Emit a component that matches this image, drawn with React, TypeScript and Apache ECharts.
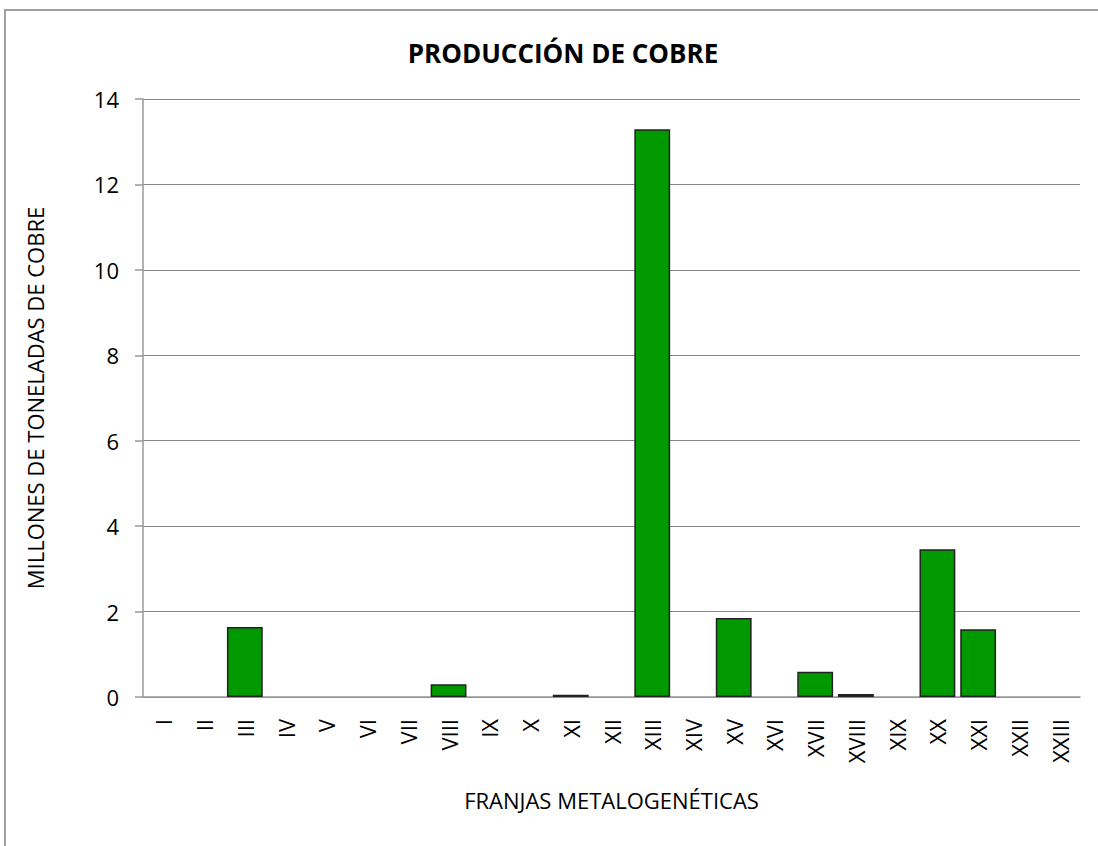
import React, { useEffect, useRef } from "react";
import * as echarts from "echarts";

const categories = ["I","II","III","IV","V","VI","VII","VIII","IX","X","XI","XII","XIII","XIV","XV","XVI","XVII","XVIII","XIX","XX","XXI","XXII","XXIII"];
const production = [0, 0, 1.64, 0, 0, 0, 0, 0.3, 0, 0, 0.05, 0, 13.29, 0, 1.85, 0, 0.59, 0.07, 0, 3.46, 1.585, 0, 0];
const yTicks = { min: 0, max: 14, interval: 2 };

const FONT = "'Open Sans', 'Noto Sans', sans-serif";

export default function App() {
  const ref = useRef<HTMLDivElement>(null);
  useEffect(() => {
    if (!ref.current) return;
    const chart = echarts.init(ref.current, undefined, { renderer: "svg" });
    chart.setOption({
      animation: false,
      backgroundColor: "#ffffff",
      title: {
        text: "PRODUCCIÓN DE COBRE",
        left: 558,
        textAlign: "center",
        top: 35,
        textStyle: { fontFamily: FONT, fontSize: 26, fontWeight: "bold", color: "#000" },
      },
      graphic: [
        {
          type: "rect",
          shape: { x: 5, y: 10, width: 1200, height: 1000 },
          style: { fill: "none", stroke: "#a0a0a0", lineWidth: 2 },
          silent: true,
        },
      ],
      grid: { left: 143, right: 18, top: 99, bottom: 149 },
      xAxis: {
        type: "category",
        data: categories,
        name: "FRANJAS METALOGENÉTICAS",
        nameLocation: "middle",
        nameGap: 92,
        nameTextStyle: { fontFamily: FONT, fontSize: 22, color: "#000" },
        axisLine: { lineStyle: { color: "#999", width: 1.5 } },
        axisTick: { show: false },
        axisLabel: { rotate: 90, margin: 22, fontFamily: FONT, fontSize: 22, color: "#000", interval: 0 },
      },
      yAxis: {
        type: "value",
        min: yTicks.min,
        max: yTicks.max,
        interval: yTicks.interval,
        name: "MILLONES DE TONELADAS DE COBRE",
        nameLocation: "middle",
        nameRotate: 90,
        nameGap: 97,
        nameTextStyle: { fontFamily: FONT, fontSize: 22, color: "#000" },
        axisLine: { show: true, lineStyle: { color: "#999", width: 1.5 } },
        axisTick: { show: true, length: 8, inside: false, lineStyle: { color: "#999", width: 1.5 } },
        axisLabel: { margin: 24, fontFamily: FONT, fontSize: 22, color: "#000" },
        splitLine: { show: true, lineStyle: { color: "#888", width: 1 } },
      },
      series: [
        {
          type: "bar",
          data: production.map((v) => (v === 0 ? "-" : v)),
          barCategoryGap: "12%",
          itemStyle: { color: "#009900", borderColor: "#222", borderWidth: 1.5 },
        },
      ],
    });
    return () => chart.dispose();
  }, []);
  return <div ref={ref} style={{ position: "absolute", left: 0, top: 0, width: 1098, height: 846 }} />;
}
